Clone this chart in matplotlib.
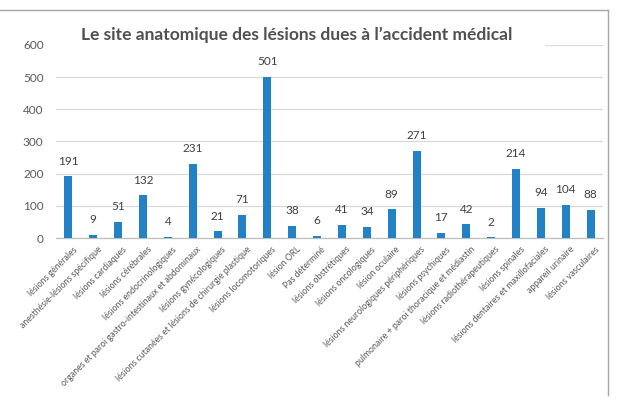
import matplotlib
matplotlib.use("Agg")
import matplotlib.pyplot as plt
from matplotlib.patches import Rectangle
from matplotlib.lines import Line2D
from matplotlib.transforms import ScaledTranslation

categories = [
    "lésions générales",
    "anesthésie-lésions spécifique",
    "lésions cardiaques",
    "lésions cérébrales",
    "lésions endocrinologiques",
    "organes et paroi gastro-intestinaux et abdominaux",
    "lésions gynécologiques",
    "lésions cutanées et lésions de chirurgie plastique",
    "lésions locomotoriques",
    "lésion ORL",
    "Pas déterminé",
    "lésions obstrétiques",
    "lésions oncologiques",
    "lésion oculaire",
    "lésions neurologiques périphériques",
    "lésions psychiques",
    "pulmonaire + paroi thoracique et médiastin",
    "lésions radiothérapeutiques",
    "lésions spinales",
    "lésions dentaires et maxillofaciales",
    "appareil urinaire",
    "lésions vasculaires",
]
values = [191, 9, 51, 132, 4, 231, 21, 71, 501, 38, 6, 41, 34, 89, 271, 17, 42, 2, 214, 94, 104, 88]
yticks = [0, 100, 200, 300, 400, 500, 600]
title = "Le site anatomique des lésions dues à l\u2019accident médical"

W, H = 618, 411
fig = plt.figure(figsize=(W / 100, H / 100), dpi=100)
fig.patch.set_facecolor("white")
ax = fig.add_axes([56 / W, 1 - 238 / H, (603 - 56) / W, (238 - 44.8) / H])

FONT = "Lato"
txt_color = "#595959"
x = list(range(len(categories)))
ax.bar(x, values, width=0.32, color="#2381C6", zorder=3)
ax.set_xlim(-0.5, len(categories) - 0.5)
ax.set_ylim(0, 600)
ax.set_yticks(yticks)
ax.set_yticklabels([str(t) for t in yticks], fontfamily=FONT, fontsize=8.5, color=txt_color)
ax.grid(axis="y", color="#d9d9d9", linewidth=0.9, zorder=0)
ax.set_axisbelow(True)
for s in ["top", "right", "left"]:
    ax.spines[s].set_visible(False)
ax.spines["bottom"].set_color("#bfbfbf")
ax.spines["bottom"].set_linewidth(0.9)
ax.tick_params(axis="y", length=0, pad=9)

ax.set_xticks(x)
ax.set_xticklabels(categories, rotation=45, ha="right", va="top", rotation_mode="anchor",
                   fontfamily=FONT, fontsize=6.3, color=txt_color)
ax.tick_params(axis="x", length=0, pad=5)
shift = ScaledTranslation(4 / 100, 0, fig.dpi_scale_trans)
for lbl in ax.get_xticklabels():
    lbl.set_transform(lbl.get_transform() + shift)

for xi, v in zip(x, values):
    ax.annotate(str(v), (xi, v), xytext=(0, 7), textcoords="offset points",
                ha="center", va="bottom", fontfamily=FONT, fontsize=8.5, color="#404040")

# white box behind the title (covers the 600 gridline)
fig.add_artist(Rectangle((52 / W, 1 - 49 / H), (545 - 52) / W, 26 / H,
                         transform=fig.transFigure, facecolor="white", edgecolor="none", zorder=5))
fig.text(297 / W, 1 - 35 / H, title, ha="center", va="center", fontfamily=FONT,
         fontweight="bold", fontsize=12.5, color="#505050", zorder=6)

# outer frame (top and right)
fig.add_artist(Line2D([0, 607.5 / W], [1 - 10 / H, 1 - 10 / H], transform=fig.transFigure,
                      color="#a6a6a6", linewidth=1.0, zorder=6))
fig.add_artist(Line2D([607.5 / W, 607.5 / W], [1 - 10 / H, 1 - 395 / H], transform=fig.transFigure,
                      color="#a6a6a6", linewidth=1.0, zorder=6))

fig.savefig("out.png", dpi=100)
